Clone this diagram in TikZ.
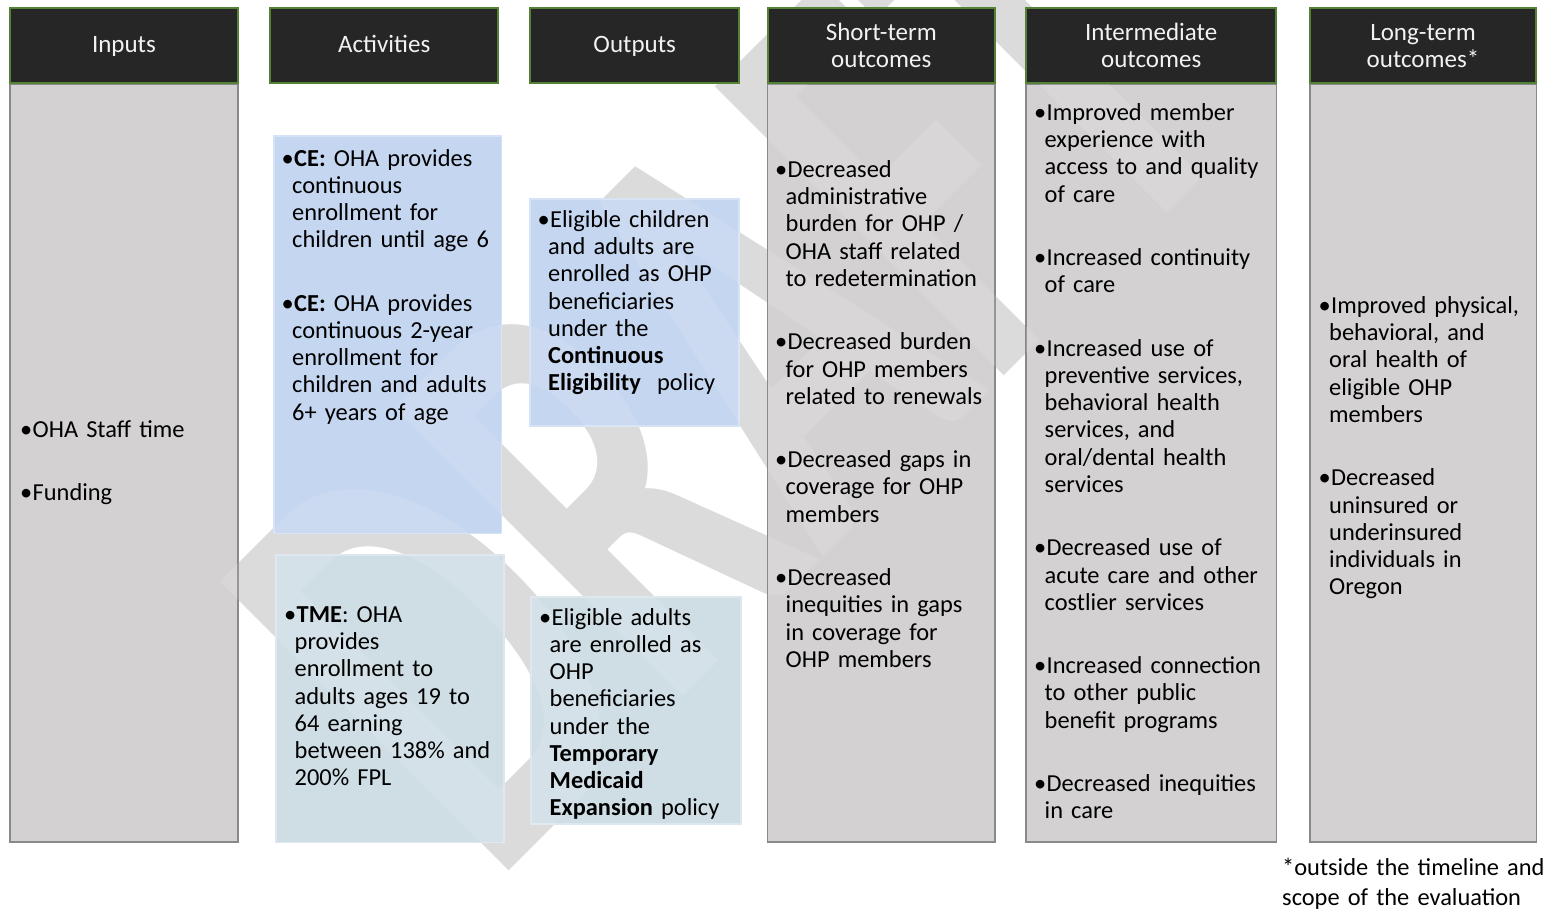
\documentclass[tikz,border=0pt]{standalone}
\usepackage{fontspec}
\setmainfont{Carlito}
\definecolor{hdr}{RGB}{38,38,38}
\definecolor{hdrline}{RGB}{84,130,53}
\definecolor{colfill}{RGB}{211,209,210}
\definecolor{colline}{RGB}{137,137,137}
\definecolor{cefill}{RGB}{197,214,240}
\definecolor{celine}{RGB}{214,226,245}
\definecolor{tmefill}{RGB}{207,221,229}
\definecolor{tmeline}{RGB}{221,231,237}
\definecolor{wm}{RGB}{219,219,219}
\definecolor{hdtext}{RGB}{242,242,242}
\newcommand\bodyfont{\fontsize{24.4}{27.2}\selectfont\parindent=0pt}
\newcommand\fl{\rule{0pt}{19pt}}
\newcommand\bul{\leavevmode\llap{•\kern-1.5pt}\kern2pt}
\newcommand\pg{\\[36.3pt]}
\newcommand\wmtext{DRAFT}
\tikzset{
  colbox/.style={fill=colfill, draw=colline, line width=1.8pt},
  hdbox/.style={fill=hdr, draw=hdrline, line width=2pt},
  cebox/.style={fill=cefill, draw=celine, line width=1.5pt},
  tmebox/.style={fill=tmefill, draw=tmeline, line width=1.5pt},
  wmstyle/.style={rotate=45, xscale=0.62, anchor=base west, inner sep=0pt, font=\fontsize{630}{630}\selectfont\bfseries},
  txt/.style={anchor=north west, inner sep=0pt, text width=#1, align=left, font=\bodyfont, text=black},
  htxt/.style={anchor=north, inner sep=0pt, align=center, font=\fontsize{25}{27}\selectfont, text=hdtext},
}
\begin{document}
\begin{tikzpicture}[x=1pt,y=-1pt]
\useasboundingbox (0,0) rectangle (1545,908);
\fill[white] (0,0) rectangle (1545,908);
% watermark
\node[wmstyle, text=wm] (wmk) at (493,887) {\wmtext};
% column bodies
\path[colbox] (10,84) rectangle (238,842);
\path[colbox] (767.5,84) rectangle (995,842);
\path[colbox] (1026,84) rectangle (1276.5,842);
\path[colbox] (1310,84) rectangle (1536.5,842);
% blue boxes
\path[cebox] (274,136) rectangle (501.5,533.5);
\path[cebox] (530,199) rectangle (739.2,426);
\path[tmebox] (275.8,554.8) rectangle (504.2,842.5);
\path[tmebox] (530.8,596.8) rectangle (741,824.2);
% faint watermark showing through the boxes
\begin{scope}
\clip (10,84) rectangle (238,842) (767.5,84) rectangle (995,842)
      (1026,84) rectangle (1276.5,842) (1310,84) rectangle (1536.5,842)
      (274,136) rectangle (501.5,533.5) (530,199) rectangle (739.2,426)
      (275.8,554.8) rectangle (504.2,842.5) (530.8,596.8) rectangle (741,824.2);
\node[wmstyle, text=white, text opacity=0.12] (wmk2) at (493,887) {\wmtext};
\end{scope}
% headers
\path[hdbox] (10.3,8.3) rectangle (237.7,82.8);
\path[hdbox] (270.3,8.3) rectangle (498,83.3);
\path[hdbox] (530.3,8.3) rectangle (739,83.3);
\path[hdbox] (767.7,8.3) rectangle (995,82.8);
\path[hdbox] (1026,8.3) rectangle (1276.3,82.8);
\path[hdbox] (1310,8.3) rectangle (1536,82.8);
% header texts
\node[htxt] (h1) at (124,33.7) {\fl Inputs};
\node[htxt] (h2) at (384.2,33.7) {\fl Activities};
\node[htxt] (h3) at (634.7,33.7) {\fl Outputs};
\node[htxt] (h4) at (881.3,21) {\fl Short-term\\outcomes};
\node[htxt] (h5) at (1151.2,21) {\fl Intermediate\\outcomes};
\node[htxt] (h6) at (1423,21) {\fl Long-term\\outcomes*};
% body texts
\node[txt=200pt] (in) at (30.5,418) {\fl\bul OHA Staff time\pg\bul Funding};
\node[txt=230pt] (ce1) at (292,147) {\fl\bul\textbf{CE:} OHA provides\\continuous\\enrollment for\\children until age 6\pg
\bul\textbf{CE:} OHA provides\\continuous 2-year\\enrollment for\\children and adults\\6+ years of age};
\node[txt=230pt] (ce2) at (548,208.3) {\fl\bul Eligible children\\and adults are\\enrolled as OHP\\beneficiaries\\under the\\\textbf{Continuous}\\\textbf{Eligibility}\ \ policy};
\node[txt=230pt] (tm1) at (294.5,603.3) {\fl\bul\textbf{TME}: OHA\\provides\\enrollment to\\adults ages 19 to\\64 earning\\between 138\% and\\200\% FPL};
\node[txt=230pt] (tm2) at (549.5,606) {\fl\bul Eligible adults\\are enrolled as\\OHP\\beneficiaries\\under the\\\textbf{Temporary}\\\textbf{Medicaid}\\\textbf{Expansion} policy};
\node[txt=230pt] (st) at (785.5,158.3) {\fl\bul Decreased\\administrative\\burden for OHP /\\OHA staff related\\to redetermination\pg
\bul Decreased burden\\for OHP members\\related to renewals\pg
\bul Decreased gaps in\\coverage for OHP\\members\pg
\bul Decreased\\inequities in gaps\\in coverage for\\OHP members};
\node[txt=240pt] (im) at (1044.5,101.3) {\fl\bul Improved member\\experience with\\access to and quality\\of care\pg
\bul Increased continuity\\of care\pg
\bul Increased use of\\preventive services,\\behavioral health\\services, and\\oral/dental health\\services\pg
\bul Decreased use of\\acute care and other\\costlier services\pg
\bul Increased connection\\to other public\\benefit programs\pg
\bul Decreased inequities\\in care};
\node[txt=230pt] (lt) at (1329,294.3) {\fl\bul Improved physical,\\behavioral, and\\oral health of\\eligible OHP\\members\pg
\bul Decreased\\uninsured or\\underinsured\\individuals in\\Oregon};
\node[anchor=north west, inner sep=0pt, text width=280pt, align=left, font=\fontsize{24.4}{30}\selectfont] (fn) at (1282,856) {\fl*outside the timeline and\\scope of the evaluation};
\end{tikzpicture}
\end{document}
